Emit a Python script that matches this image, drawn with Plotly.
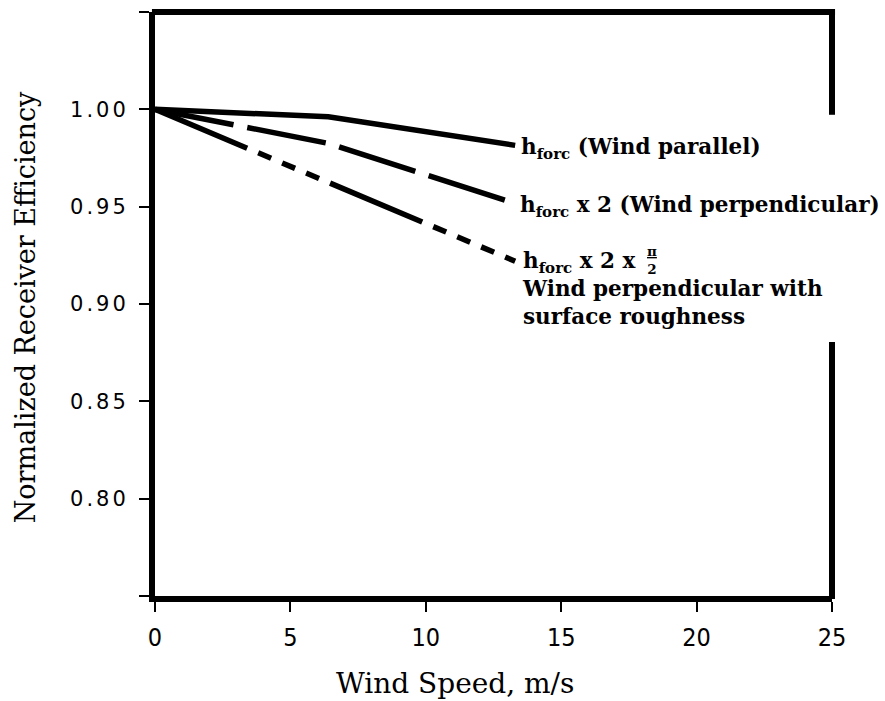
import plotly.graph_objects as go

# ---- data ----
wind_parallel_x = [0, 6.4, 13.3]
wind_parallel_y = [1.000, 0.9962, 0.9815]

wind_perp_x = [0, 6.4, 13.0]
wind_perp_y = [1.000, 0.9825, 0.9530]

wind_rough_x = [0, 6.4, 13.3]
wind_rough_y = [1.000, 0.9625, 0.9220]

x_ticks = [0, 5, 10, 15, 20, 25]
y_ticks = [0.80, 0.85, 0.90, 0.95, 1.00]
y_labels = ["0.80", "0.85", "0.90", "0.95", "1.00"]
y_end_ticks = [0.75, 1.05]

label_parallel = "<b>h<sub>forc</sub> (Wind parallel)</b>"
label_perp = "<b>h<sub>forc</sub> x 2 (Wind perpendicular)</b>"
label_rough = "<b>h<sub>forc</sub> x 2 x </b><br><b>Wind perpendicular with</b><br><b>surface roughness</b>"
frac_text = "<b><span style='text-decoration:underline'>π</span><br>2</b>"

x_title = "Wind Speed, m/s"
y_title = "Normalized Receiver Efficiency"

y_ticktext = ["<span style='letter-spacing:3px'>%s</span>" % t for t in y_labels]

LW = 5.5
fig = go.Figure()
fig.add_trace(go.Scatter(x=wind_parallel_x, y=wind_parallel_y, mode="lines",
                         line=dict(color="black", width=LW), showlegend=False))
fig.add_trace(go.Scatter(x=wind_perp_x, y=wind_perp_y, mode="lines",
                         line=dict(color="black", width=LW, dash="80px,14px"), showlegend=False))
fig.add_trace(go.Scatter(x=wind_rough_x, y=wind_rough_y, mode="lines",
                         line=dict(color="black", width=LW,
                                   dash="100px,12px,14px,12px,14px,12px,14px,12px"),
                         showlegend=False))

lab_font = dict(family="DejaVu Serif", size=21.5, color="black")
fig.add_annotation(x=wind_parallel_x[-1], y=wind_parallel_y[-1], text=label_parallel,
                   showarrow=False, xanchor="left", yanchor="middle", xshift=4, yshift=-3,
                   font=lab_font)
fig.add_annotation(x=wind_perp_x[-1], y=wind_perp_y[-1], text=label_perp,
                   showarrow=False, xanchor="left", yanchor="middle", xshift=11, yshift=-6,
                   font=lab_font)
fig.add_annotation(x=wind_rough_x[-1], y=wind_rough_y[-1], text=label_rough,
                   showarrow=False, xanchor="left", yanchor="top", xshift=5, yshift=15,
                   align="left", font=lab_font)
fig.add_annotation(x=wind_rough_x[-1], y=wind_rough_y[-1], text=frac_text,
                   showarrow=False, xanchor="left", yanchor="middle", xshift=130, yshift=1,
                   align="center", font=dict(family="DejaVu Serif", size=13.5, color="black"))

fig.add_annotation(xref="paper", yref="paper", x=0.443, y=-0.149, text=x_title,
                   showarrow=False, xanchor="center", yanchor="middle",
                   font=dict(family="DejaVu Serif", size=28, color="black"))
fig.add_annotation(xref="paper", yref="paper", x=-0.19, y=0.495, text=y_title,
                   showarrow=False, xanchor="center", yanchor="middle", textangle=-90,
                   font=dict(family="DejaVu Serif", size=27, color="black"))

# frame: top and right (right has a gap)
fig.add_shape(type="line", xref="paper", yref="paper", x0=-0.0045, x1=1.0045, y0=1, y1=1,
              line=dict(color="black", width=6))
fig.add_shape(type="line", xref="paper", yref="paper", x0=1, x1=1, y0=1.005, y1=0.824,
              line=dict(color="black", width=6))
fig.add_shape(type="line", xref="paper", yref="paper", x0=1, x1=1, y0=0.435, y1=-0.005,
              line=dict(color="black", width=6))

fig.update_layout(
    width=885, height=701,
    margin=dict(l=155, r=53, t=12, b=105),
    paper_bgcolor="white", plot_bgcolor="white",
    xaxis=dict(range=[0, 25], tickvals=x_ticks, showgrid=False, zeroline=False,
               showline=True, linewidth=6, linecolor="black",
               ticks="outside", ticklen=10, tickwidth=2, tickcolor="black",
               ticklabelstandoff=4,
               tickfont=dict(family="Liberation Sans Narrow, DejaVu Sans Condensed, Liberation Sans",
                             size=25, color="black")),
    yaxis=dict(range=[0.75, 1.05], tickvals=y_ticks, ticktext=y_ticktext,
               showgrid=False, zeroline=False,
               showline=True, linewidth=6, linecolor="black",
               ticks="outside", ticklen=10, tickwidth=2, tickcolor="black",
               ticklabelstandoff=6,
               minor=dict(tickvals=y_end_ticks, ticks="outside", ticklen=10, tickwidth=2,
                          tickcolor="black", showgrid=False),
               tickfont=dict(family="DejaVu Sans", size=21, color="black")),
)

fig.write_html("out.html")
